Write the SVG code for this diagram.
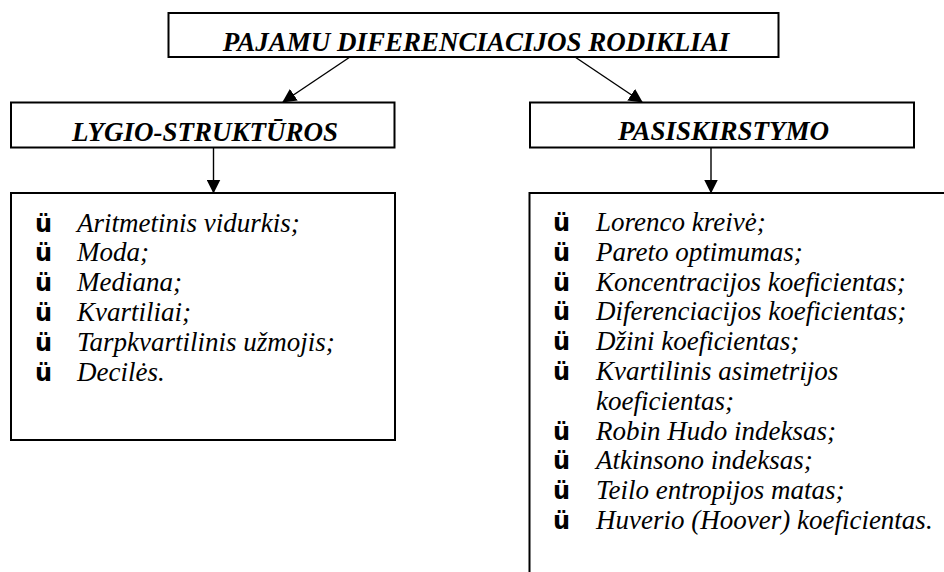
<svg xmlns="http://www.w3.org/2000/svg" width="944" height="572" viewBox="0 0 944 572">
<style>
.box{fill:#fff;stroke:#000;stroke-width:2}
.hdr{font-family:"Liberation Serif","Times New Roman",serif;font-weight:bold;font-style:italic;font-size:27px;fill:#000}
.item{font-family:"Liberation Serif","Times New Roman",serif;font-style:italic;font-size:27px;fill:#000}
.bul{font-family:"DejaVu Sans","Liberation Sans",sans-serif;font-weight:bold;font-size:24px;fill:#000}
.conn{stroke:#000;stroke-width:1.4;fill:none}
</style>
<defs>
<marker id="ah" viewBox="0 0 14 14" refX="13" refY="7" markerWidth="14" markerHeight="14" markerUnits="userSpaceOnUse" orient="auto">
<path d="M0,0 L14,7 L0,14 Z" fill="#000"/>
</marker>
</defs>
<rect width="944" height="572" fill="#fff"/>
<g id="connectors">
<line class="conn" x1="350" y1="57" x2="283" y2="102" marker-end="url(#ah)"/>
<line class="conn" x1="575" y1="57" x2="642" y2="102" marker-end="url(#ah)"/>
<line class="conn" x1="213.5" y1="148" x2="213.5" y2="192.5" marker-end="url(#ah)"/>
<line class="conn" x1="711" y1="148" x2="711" y2="192.5" marker-end="url(#ah)"/>
</g>
<g id="root">
<rect class="box" x="168.5" y="13" width="610" height="44"/>
<text class="hdr" x="476" y="50.5" text-anchor="middle">PAJAMU DIFERENCIACIJOS RODIKLIAI</text>
</g>
<g id="lygio">
<rect class="box" x="11" y="102.5" width="383.5" height="45"/>
<text class="hdr" x="205" y="140.5" text-anchor="middle">LYGIO-STRUKTŪROS</text>
</g>
<g id="pasiskirstymo">
<rect class="box" x="530" y="102.5" width="384" height="45"/>
<text class="hdr" x="723.5" y="139.5" text-anchor="middle">PASISKIRSTYMO</text>
</g>
<g id="lygio-list">
<rect class="box" x="11" y="193" width="384" height="247"/>
<text class="bul" x="35" y="231.5">ü</text><text class="item" x="77" y="231.5">Aritmetinis vidurkis;</text>
<text class="bul" x="35" y="261.3">ü</text><text class="item" x="77" y="261.3">Moda;</text>
<text class="bul" x="35" y="291.1">ü</text><text class="item" x="77" y="291.1">Mediana;</text>
<text class="bul" x="35" y="320.9">ü</text><text class="item" x="77" y="320.9">Kvartiliai;</text>
<text class="bul" x="35" y="350.7">ü</text><text class="item" x="77" y="350.7">Tarpkvartilinis užmojis;</text>
<text class="bul" x="35" y="380.5">ü</text><text class="item" x="77" y="380.5">Decilės.</text>
</g>
<g id="pasiskirstymo-list">
<rect class="box" x="529.5" y="193" width="430" height="400"/>
<text class="bul" x="553" y="231">ü</text><text class="item" x="596" y="231">Lorenco kreivė;</text>
<text class="bul" x="553" y="260.8">ü</text><text class="item" x="596" y="260.8">Pareto optimumas;</text>
<text class="bul" x="553" y="290.6">ü</text><text class="item" x="596" y="290.6">Koncentracijos koeficientas;</text>
<text class="bul" x="553" y="320.4">ü</text><text class="item" x="596" y="320.4">Diferenciacijos koeficientas;</text>
<text class="bul" x="553" y="350.2">ü</text><text class="item" x="596" y="350.2">Džini koeficientas;</text>
<text class="bul" x="553" y="380">ü</text><text class="item" x="596" y="380">Kvartilinis asimetrijos</text>
<text class="item" x="596" y="409.8">koeficientas;</text>
<text class="bul" x="553" y="439.6">ü</text><text class="item" x="596" y="439.6">Robin Hudo indeksas;</text>
<text class="bul" x="553" y="469.4">ü</text><text class="item" x="596" y="469.4">Atkinsono indeksas;</text>
<text class="bul" x="553" y="499.2">ü</text><text class="item" x="596" y="499.2">Teilo entropijos matas;</text>
<text class="bul" x="553" y="529">ü</text><text class="item" x="596" y="529">Huverio (Hoover) koeficientas.</text>
</g>
</svg>
